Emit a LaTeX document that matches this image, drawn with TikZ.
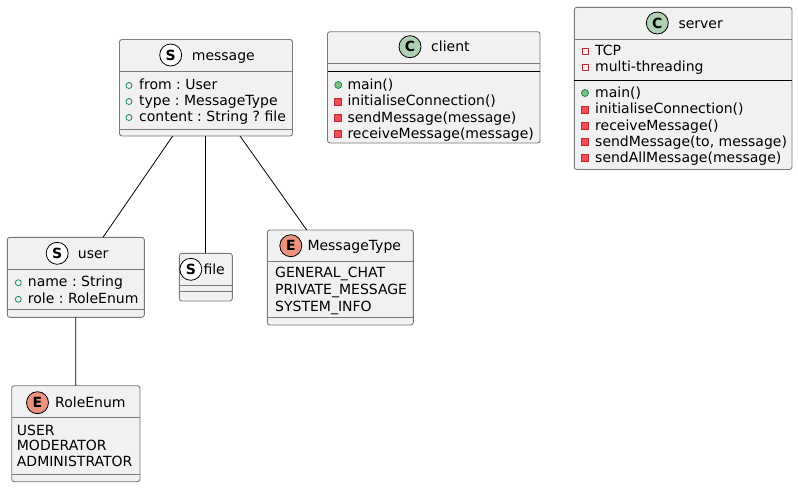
\documentclass[tikz,border=0pt]{standalone}
\usepackage{fontspec}
\setmainfont{DejaVu Sans}
\frenchspacing
\usetikzlibrary{calc}
\definecolor{boxfill}{HTML}{F1F1F1}
\definecolor{boxline}{HTML}{7A7A7A}
\definecolor{cspot}{HTML}{ADD1B2}
\definecolor{espot}{HTML}{EB937F}
\definecolor{publine}{HTML}{038048}
\definecolor{pubfill}{HTML}{84BE84}
\definecolor{privline}{HTML}{C82930}
\definecolor{privfill}{HTML}{F24D5C}
\begin{document}
\begin{tikzpicture}[x=1pt,y=-1pt,
  umlbox/.style={draw=boxline, fill=boxfill, line width=0.9pt, rounded corners=2.5pt, anchor=north west, inner sep=0pt, outer sep=0pt},
  graysep/.style={draw=boxline, line width=0.9pt},
  blacksep/.style={draw=black, line width=1pt},
  spot/.style={circle, draw=black, line width=0.8pt, minimum size=22pt, inner sep=0pt, font=\bfseries\fontsize{14}{14}\selectfont},
  sspot/.style={spot, fill=white},
  cspotst/.style={spot, fill=cspot},
  espotst/.style={spot, fill=espot},
  title/.style={anchor=base west, inner sep=0pt, font=\fontsize{14}{16}\selectfont},
  member/.style={anchor=base west, inner sep=0pt, font=\fontsize{14}{16}\selectfont},
  pubfield/.style={circle, draw=publine, line width=0.7pt, minimum size=6pt, inner sep=0pt},
  pubmethod/.style={circle, draw=publine, fill=pubfill, line width=0.7pt, minimum size=7pt, inner sep=0pt},
  privfield/.style={rectangle, draw=privline, line width=0.7pt, minimum size=6pt, inner sep=0pt},
  privmethod/.style={rectangle, draw=privline, fill=privfill, line width=0.7pt, minimum size=7pt, inner sep=0pt},
  link/.style={draw=black, line width=0.8pt}]
\useasboundingbox (0,0) rectangle (798,488);

% ---------- boxes ----------
\node[umlbox, minimum width=173pt, minimum height=96.5pt] (msg) at (119.5,39.5) {};
\node[umlbox, minimum width=212.5pt, minimum height=111.3pt] (client) at (327.5,31.7) {};
\node[umlbox, minimum width=217.7pt, minimum height=162.2pt] (server) at (574.3,7.3) {};
\node[umlbox, minimum width=137pt, minimum height=80pt] (user) at (7.3,237.3) {};
\node[umlbox, minimum width=53pt, minimum height=47.7pt] (file) at (179.3,253.3) {};
\node[umlbox, minimum width=146pt, minimum height=95pt] (mtype) at (267.3,230) {};
\node[umlbox, minimum width=128.3pt, minimum height=96pt] (role) at (11.7,385.7) {};

% ---------- separators ----------
\draw[graysep] (msg.west |- 0,71) -- (msg.east |- 0,71);
\draw[graysep] (msg.west |- 0,129.3) -- (msg.east |- 0,129.3);
\draw[graysep] (client.west |- 0,63.3) -- (client.east |- 0,63.3);
\draw[blacksep] (client.west |- 0,71) -- (client.east |- 0,71);
\draw[graysep] (server.west |- 0,39.3) -- (server.east |- 0,39.3);
\draw[blacksep] (server.west |- 0,80) -- (server.east |- 0,80);
\draw[graysep] (user.west |- 0,269.3) -- (user.east |- 0,269.3);
\draw[graysep] (user.west |- 0,309) -- (user.east |- 0,309);
\draw[graysep] (file.west |- 0,285) -- (file.east |- 0,285);
\draw[graysep] (file.west |- 0,291) -- (file.east |- 0,291);
\draw[graysep] (mtype.west |- 0,261.7) -- (mtype.east |- 0,261.7);
\draw[graysep] (mtype.west |- 0,317.7) -- (mtype.east |- 0,317.7);
\draw[graysep] (role.west |- 0,417.3) -- (role.east |- 0,417.3);
\draw[graysep] (role.west |- 0,474) -- (role.east |- 0,474);

% ---------- titles ----------
\node[sspot] (msgspot) at (170.7,55) {S};
\node[title] (msgtitle) at (191.7,60) {message};
\node[cspotst] (clientspot) at (410,46.7) {C};
\node[title] (clienttitle) at (431,51.7) {client};
\node[cspotst] (serverspot) at (657.3,23) {C};
\node[title] (servertitle) at (678.3,28) {server};
\node[sspot] (userspot) at (57.2,253.3) {S};
\node[title] (usertitle) at (77.7,258.3) {user};
\node[sspot] (filespot) at (190.8,269.3) {S};
\node[title] (filetitle) at (203.3,274.3) {file};
\node[espotst] (mtypespot) at (290.8,245.7) {E};
\node[title] (mtypetitle) at (307.3,250.7) {MessageType};
\node[espotst] (rolespot) at (37.5,402.7) {E};
\node[title] (roletitle) at (55,407.7) {RoleEnum};

% ---------- message members ----------
\node[pubfield] (mi1) at (129,85.5) {};
\node[member] (mm1) at (139,89.5) {from : User};
\node[pubfield] (mi2) at (129,101.5) {};
\node[member] (mm2) at (139,105.5) {type : MessageType};
\node[pubfield] (mi3) at (129,117.5) {};
\node[member] (mm3) at (139,121.5) {content : String ? file};

% ---------- client members ----------
\node[pubmethod] (ci1) at (338.3,85) {};
\node[member] (cm1) at (347.3,89) {main()};
\node[privmethod] (ci2) at (338.3,101.5) {};
\node[member] (cm2) at (347.3,105.5) {initialiseConnection()};
\node[privmethod] (ci3) at (338.3,118) {};
\node[member] (cm3) at (347.3,122) {sendMessage(message)};
\node[privmethod] (ci4) at (338.3,134) {};
\node[member] (cm4) at (347.3,138) {receiveMessage(message)};

% ---------- server members ----------
\node[privfield] (si1) at (585,51.5) {};
\node[member] (sm1) at (595,55.5) {TCP};
\node[privfield] (si2) at (585,67.8) {};
\node[member] (sm2) at (595,71.8) {multi-threading};
\node[pubmethod] (si3) at (585,93) {};
\node[member] (sm3) at (595,97) {main()};
\node[privmethod] (si4) at (585,109.5) {};
\node[member] (sm4) at (595,113.5) {initialiseConnection()};
\node[privmethod] (si5) at (585,126) {};
\node[member] (sm5) at (595,130) {receiveMessage()};
\node[privmethod] (si6) at (585,142) {};
\node[member] (sm6) at (595,146) {sendMessage(to, message)};
\node[privmethod] (si7) at (585,158) {};
\node[member] (sm7) at (595,162) {sendAllMessage(message)};

% ---------- user members ----------
\node[pubfield] (ui1) at (18.3,282.7) {};
\node[member] (um1) at (27.7,286.7) {name : String};
\node[pubfield] (ui2) at (18.3,299.3) {};
\node[member] (um2) at (27.7,303.3) {role : RoleEnum};

% ---------- enum values ----------
\node[member] (mt1) at (275,277.7) {GENERAL\_CHAT};
\node[member] (mt2) at (275,294) {PRIVATE\_MESSAGE};
\node[member] (mt3) at (275,311) {SYSTEM\_INFO};
\node[member] (re1) at (16.7,435) {USER};
\node[member] (re2) at (16.7,450.7) {MODERATOR};
\node[member] (re3) at (16.7,466.7) {ADMINISTRATOR};

% ---------- connectors ----------
\draw[link] ($(msg.south west)+(53.2,0)$) -- ($(user.north west)+(95.7,0)$);
\draw[link] (file.north) -- (file.north |- msg.south);
\draw[link] ($(msg.south west)+(120.5,0)$) -- ($(mtype.north west)+(39.4,0)$);
\draw[link] (user.south) -- (role.north);
\end{tikzpicture}
\end{document}
